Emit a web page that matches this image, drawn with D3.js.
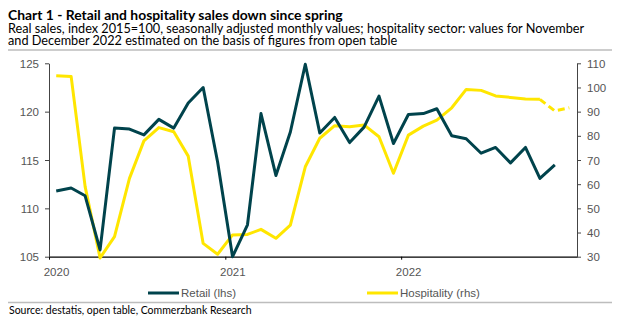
<!DOCTYPE html>
<html>
<head>
<meta charset="utf-8">
<script src="https://cdn.jsdelivr.net/npm/d3@7"></script>
<style>
  body { margin: 0; background: #fff; }
  .title { font-family: Lato, "Noto Sans", sans-serif; font-weight: bold; font-size: 13.9px; fill: #000; }
  .subtitle { font-family: Lato, "Noto Sans", sans-serif; font-size: 12.7px; fill: #000; }
  .axis text { font-family: "Liberation Sans", Arial, sans-serif; font-size: 11.5px; fill: #555; }
  .legend text { font-family: "Liberation Sans", Arial, sans-serif; font-size: 11.5px; fill: #555; }
  .source { font-family: Lato, "Noto Sans", sans-serif; font-size: 10.5px; fill: #000; }
</style>
</head>
<body>
<div id="chart"></div>
<script>
// Data: monthly values Jan 2020 .. Dec 2022
const months = d3.range( 36 ).map( i => new Date( 2020, i, 16 ) );
const yearTicks = [ 2020, 2021, 2022 ];
const leftTicks = [ 105, 110, 115, 120, 125 ];
const rightTicks = [ 30, 40, 50, 60, 70, 80, 90, 100, 110 ];

// Retail (lhs), Jan 2020 - Nov 2022
const retail = [
  111.8, 112.1, 111.3, 105.7, 118.3, 118.2, 117.6, 119.2, 118.3, 120.9, 122.5, 114.8,
  105.0, 108.3, 119.8, 113.4, 117.9, 124.9, 117.8, 119.4, 116.8, 118.4, 121.6, 116.7,
  119.7, 119.8, 120.3, 117.5, 117.2, 115.7, 116.3, 114.7, 116.3, 113.1, 114.5
];
// Hospitality (rhs), Jan 2020 - Dec 2022; Nov/Dec 2022 estimated
const hospitality = [
  104.9, 104.5, 59.0, 29.5, 38.3, 62.4, 77.9, 83.4, 81.7, 71.6, 35.5, 31.0,
  39.0, 39.2, 41.3, 37.6, 43.1, 67.2, 79.0, 84.2, 83.8, 84.5, 79.6, 64.5,
  80.3, 84.0, 86.5, 91.6, 99.2, 98.8, 96.5, 95.9, 95.2, 95.1, 90.3, 91.6
];
const estimatedFrom = 33; // index of Oct 2022, last observed value

const titleText = "Chart 1 - Retail and hospitality sales down since spring";
const subtitleLines = [
  "Real sales, index 2015=100, seasonally adjusted monthly values; hospitality sector: values for November",
  "and December 2022 estimated on the basis of figures from open table"
];
const sourceText = "Source: destatis, open table, Commerzbank Research";

// Step 1: set up the chart
const svgWidth = 623, svgHeight = 322;
const plot = { left: 49, right: 577, top: 63.3, bottom: 256.7 };

const svg = d3.select( "#chart" ).append( "svg" )
  .attr( "width", svgWidth )
  .attr( "height", svgHeight );

// Step 2: titles and rules
svg.append( "text" ).attr( "class", "title" ).attr( "x", 8 ).attr( "y", 19.5 ).text( titleText );
svg.selectAll( ".subtitle" ).data( subtitleLines ).enter()
  .append( "text" ).attr( "class", "subtitle" )
  .attr( "x", 8 ).attr( "y", ( d, i ) => 32.5 + i * 12 )
  .text( d => d );

svg.append( "line" ).attr( "x1", 8 ).attr( "x2", 612 ).attr( "y1", 50 ).attr( "y2", 50 )
  .attr( "stroke", "#bdbdbd" ).attr( "stroke-width", 1.6 );
svg.append( "line" ).attr( "x1", 8 ).attr( "x2", 612 ).attr( "y1", 302.5 ).attr( "y2", 302.5 )
  .attr( "stroke", "#bdbdbd" ).attr( "stroke-width", 1.6 );
svg.append( "text" ).attr( "class", "source" ).attr( "x", 9 ).attr( "y", 314 ).text( sourceText );

// Step 3: scales
const x = d3.scaleTime()
  .domain( [ new Date( 2020, 0, 1 ), new Date( 2023, 0, 1 ) ] )
  .range( [ plot.left, plot.right ] );
const yLeft = d3.scaleLinear().domain( [ 105, 125 ] ).range( [ plot.bottom, plot.top ] );
const yRight = d3.scaleLinear().domain( [ 30, 110 ] ).range( [ plot.bottom, plot.top ] );

// Step 4: axes
const xAxis = svg.append( "g" ).attr( "class", "axis" )
  .attr( "transform", `translate(0, ${plot.bottom})` )
  .call( d3.axisBottom( x )
    .tickValues( yearTicks.map( y => new Date( y, 0, 1 ) ) )
    .tickFormat( d3.timeFormat( "%Y" ) )
    .tickSize( 3 )
    .tickSizeOuter( 0 ) );
xAxis.select( ".domain" ).attr( "stroke", "#000" ).attr( "stroke-width", 1.2 );
xAxis.selectAll( ".tick line" ).attr( "stroke", "#000" );
xAxis.selectAll( "text" ).attr( "dx", 7 ).attr( "dy", "1.2em" );

const leftAxis = svg.append( "g" ).attr( "class", "axis" )
  .attr( "transform", `translate(${plot.left}, 0)` )
  .call( d3.axisLeft( yLeft ).tickValues( leftTicks ).tickSize( 4 ).tickSizeOuter( 0 ) );
const rightAxis = svg.append( "g" ).attr( "class", "axis" )
  .attr( "transform", `translate(${plot.right}, 0)` )
  .call( d3.axisRight( yRight ).tickValues( rightTicks ).tickSize( 4 ).tickSizeOuter( 0 ) );
[ leftAxis, rightAxis ].forEach( a => {
  a.select( ".domain" ).attr( "stroke", "#444" );
  a.selectAll( ".tick line" ).attr( "stroke", "#444" );
  a.selectAll( "text" ).attr( "dy", "0.35em" );
} );
leftAxis.selectAll( "text" ).attr( "x", -10 );
rightAxis.selectAll( "text" ).attr( "x", 10 );

// Step 5: lines
const retailColor = "#00434c";
const hospColor = "#ffe600";

const lineLeft = d3.line().x( ( d, i ) => x( months[ i ] ) ).y( d => yLeft( d ) );
const lineRight = d3.line().x( d => x( months[ d.i ] ) ).y( d => yRight( d.v ) );

const hospPts = hospitality.map( ( v, i ) => ( { v, i } ) );

svg.append( "path" )
  .attr( "d", lineRight( hospPts.slice( 0, estimatedFrom + 1 ) ) )
  .attr( "fill", "none" ).attr( "stroke", hospColor ).attr( "stroke-width", 3 )
  .attr( "stroke-linejoin", "round" );
svg.append( "path" )
  .attr( "d", lineRight( hospPts.slice( estimatedFrom ) ) )
  .attr( "fill", "none" ).attr( "stroke", hospColor ).attr( "stroke-width", 3 )
  .attr( "stroke-dasharray", "7,4" );

svg.append( "path" )
  .attr( "d", lineLeft( retail ) )
  .attr( "fill", "none" ).attr( "stroke", retailColor ).attr( "stroke-width", 3 )
  .attr( "stroke-linejoin", "round" );

// Step 6: legend
const legendItems = [
  { name: "Retail (lhs)", color: retailColor, x: 148 },
  { name: "Hospitality (rhs)", color: hospColor, x: 367 }
];
const legend = svg.append( "g" ).attr( "class", "legend" )
  .selectAll( "g" ).data( legendItems ).enter()
  .append( "g" ).attr( "transform", d => `translate(${d.x}, 293)` );
legend.append( "line" ).attr( "x1", 0 ).attr( "x2", 31 )
  .attr( "stroke", d => d.color ).attr( "stroke-width", 3 );
legend.append( "text" ).attr( "x", 33 ).attr( "dy", "0.35em" ).text( d => d.name );
</script>
</body>
</html>
